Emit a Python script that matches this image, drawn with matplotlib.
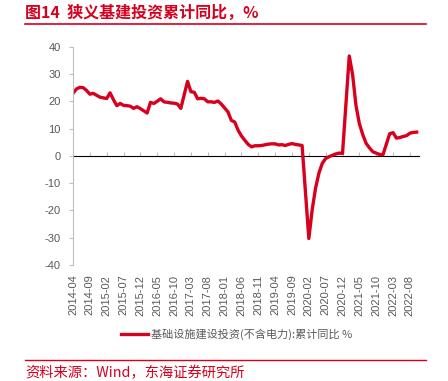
import matplotlib
matplotlib.use("Agg")
from matplotlib import pyplot as plt
from matplotlib.lines import Line2D

# 数据：基础设施建设投资(不含电力):累计同比 %（1月无数据）
dates = [
    "2014-04", "2014-05", "2014-06", "2014-07", "2014-08", "2014-09", "2014-10", "2014-11", "2014-12",
    "2015-02", "2015-03", "2015-04", "2015-05", "2015-06", "2015-07", "2015-08", "2015-09", "2015-10", "2015-11", "2015-12",
    "2016-02", "2016-03", "2016-04", "2016-05", "2016-06", "2016-07", "2016-08", "2016-09", "2016-10", "2016-11", "2016-12",
    "2017-02", "2017-03", "2017-04", "2017-05", "2017-06", "2017-07", "2017-08", "2017-09", "2017-10", "2017-11", "2017-12",
    "2018-02", "2018-03", "2018-04", "2018-05", "2018-06", "2018-07", "2018-08", "2018-09", "2018-10", "2018-11", "2018-12",
    "2019-02", "2019-03", "2019-04", "2019-05", "2019-06", "2019-07", "2019-08", "2019-09", "2019-10", "2019-11", "2019-12",
    "2020-02", "2020-03", "2020-04", "2020-05", "2020-06", "2020-07", "2020-08", "2020-09", "2020-10", "2020-11", "2020-12",
    "2021-02", "2021-03", "2021-04", "2021-05", "2021-06", "2021-07", "2021-08", "2021-09", "2021-10", "2021-11", "2021-12",
    "2022-02", "2022-03", "2022-04", "2022-05", "2022-06", "2022-07", "2022-08", "2022-09", "2022-10",
]
values = [
    22.9, 24.5, 25.1, 25.0, 24.0, 22.6, 22.9, 22.2, 21.5,
    21.0, 23.1, 20.6, 18.4, 19.2, 18.5, 18.4, 18.2, 17.4, 18.0, 17.3,
    15.7, 19.6, 19.2, 20.0, 20.9, 19.8, 19.6, 19.4, 19.3, 19.0, 17.4,
    27.3, 23.5, 23.3, 20.9, 21.1, 20.9, 19.8, 19.8, 19.6, 20.1, 19.0,
    16.1, 13.0, 12.4, 9.4, 7.3, 5.7, 4.2, 3.3, 3.7, 3.7, 3.8,
    4.3, 4.4, 4.4, 4.0, 4.1, 3.8, 4.2, 4.5, 4.2, 4.0, 3.8,
    -30.3, -19.7, -11.8, -6.3, -2.7, -1.0, -0.3, 0.2, 0.7, 1.0, 0.9,
    36.6, 29.7, 18.4, 11.8, 7.8, 4.6, 2.9, 1.5, 1.0, 0.5, 0.4,
    8.1, 8.5, 6.5, 6.7, 7.1, 7.4, 8.3, 8.6, 8.7,
]
tick_labels = [
    "2014-04", "2014-09", "2015-02", "2015-07", "2015-12", "2016-05", "2016-10",
    "2017-03", "2017-08", "2018-01", "2018-06", "2018-11", "2019-04", "2019-09",
    "2020-02", "2020-07", "2020-12", "2021-05", "2021-10", "2022-03", "2022-08",
]
yticks = [40, 30, 20, 10, 0, -10, -20, -30, -40]
series_name = "基础设施建设投资(不含电力):累计同比 %"
title = "图14  狭义基建投资累计同比，%"
source = "资料来源：Wind，东海证券研究所"


def month_index(s):
    y, m = s.split("-")
    return (int(y) - 2014) * 12 + int(m) - 4


x = [month_index(d) for d in dates]
xt = [month_index(d) for d in tick_labels]

RED = "#D7001E"
GRAY = "#595959"
AXIS = "#BFBFBF"
CJK = ["Noto Sans CJK SC", "DejaVu Sans"]

fig = plt.figure(figsize=(4.48, 3.81), dpi=100)
ax = fig.add_axes([73 / 448, 1 - 265 / 381, (419 - 73) / 448, (265 - 46.7) / 381])

ax.plot(x, values, color=RED, lw=2.4, solid_joinstyle="round")
ax.set_xlim(0, 102.7)
ax.set_ylim(-40, 40)

# 坐标轴样式
for s in ["top", "right", "bottom"]:
    ax.spines[s].set_visible(False)
ax.spines["left"].set_color(AXIS)
ax.spines["left"].set_linewidth(0.8)
ax.set_yticks(yticks)
ax.set_yticklabels([str(v) for v in yticks], family="Liberation Sans", fontsize=8, color=GRAY)
ax.tick_params(axis="y", length=3, color=AXIS, width=0.8, pad=6)
ax.set_xticks(xt)
ax.set_xticklabels(tick_labels, rotation=90, family="Liberation Sans", fontsize=8, color=GRAY)
ax.tick_params(axis="x", length=0, pad=7)

# 零轴线及刻度
sec = ax.secondary_xaxis(0.5)
sec.set_xticks(xt)
sec.set_xticklabels([])
sec.spines["bottom"].set_color(AXIS)
sec.spines["bottom"].set_linewidth(0.8)
sec.tick_params(axis="x", length=3, color=AXIS, width=0.8)

# 图例
h = Line2D([], [], color=RED, lw=2.4)
fig.legend([h], [series_name], loc="center", bbox_to_anchor=(237 / 448, 1 - 334 / 381),
           frameon=False, handlelength=2.4, handletextpad=0.3,
           prop={"family": CJK, "size": 8}, labelcolor=GRAY)

# 标题、来源及红线
fig.text(25 / 448, 1 - 12.5 / 381, title, color=RED, fontsize=11.5, fontweight="bold",
         family=CJK, va="center", ha="left")
fig.add_artist(Line2D([25 / 448, 426 / 448], [1 - 23.5 / 381] * 2, color=RED, lw=1.2))
fig.add_artist(Line2D([25 / 448, 426 / 448], [1 - 360 / 381] * 2, color=RED, lw=1.0))
fig.text(25 / 448, 1 - 372.5 / 381, source, color=RED, fontsize=10.3,
         family=CJK, va="center", ha="left")

plt.savefig("out.png", dpi=100)
